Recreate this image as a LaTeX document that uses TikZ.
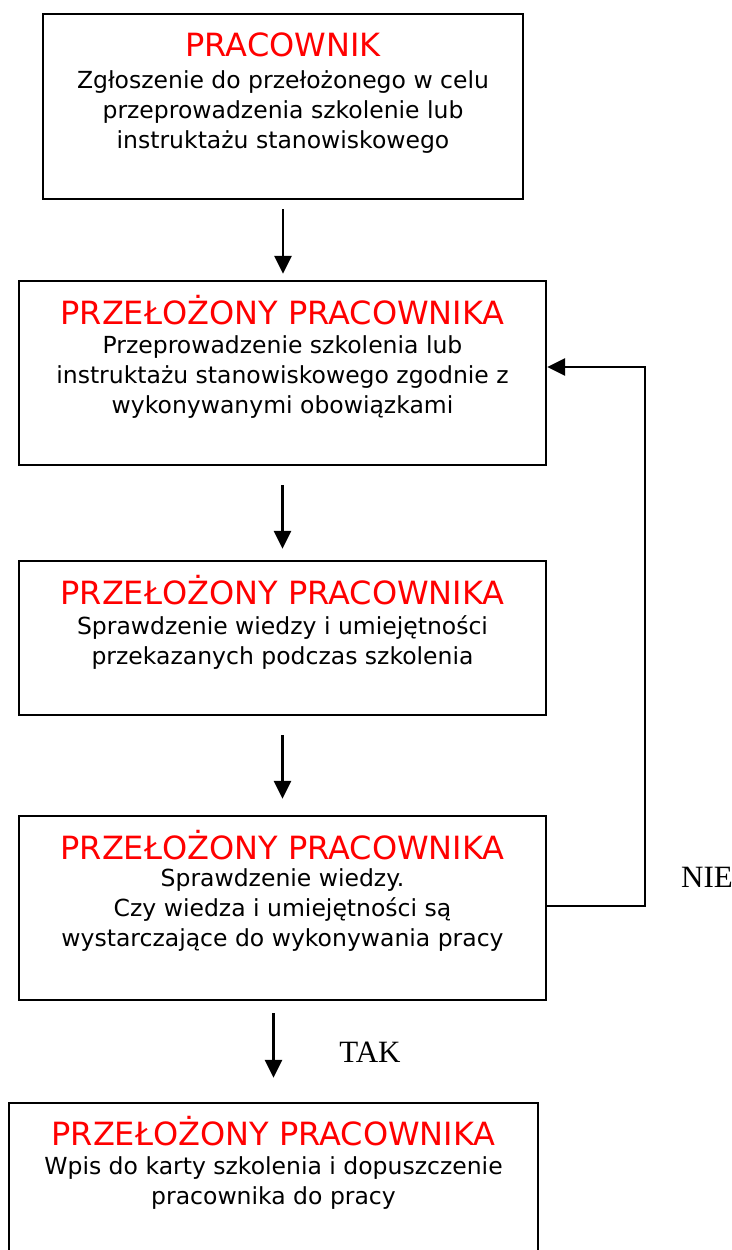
\documentclass[tikz,border=0pt]{standalone}
\usepackage{fontspec}
\setmainfont{DejaVu Sans}
\newfontfamily\labelfont{Liberation Serif}
\usetikzlibrary{arrows.meta,calc}
\definecolor{titlered}{RGB}{255,0,0}
\begin{document}
\begin{tikzpicture}[x=1pt,y=-1pt,
  box/.style={draw, line width=2.4pt, inner sep=0pt},
  ttl/.style={text=titlered, font=\fontsize{32}{36}\selectfont, anchor=base, inner sep=0pt},
  body/.style={font=\fontsize{23.5}{30}\selectfont, align=center, anchor=north, inner sep=0pt},
  arr/.style={line width=2.8pt, -{Triangle[length=18pt,width=17pt]}},
  lbl/.style={font=\labelfont\fontsize{31}{36}\selectfont, inner sep=0pt}]
\clip (0,0) rectangle (731,1250);
\fill[white] (0,0) rectangle (731,1250);

\node[box, minimum width=480pt, minimum height=185pt] (b1) at (283,106.5) {};
\node[ttl] (t1) at (283,56.7) {PRACOWNIK};
\node[body] (d1) at (283,70) {Zgłoszenie do przełożonego w celu\\przeprowadzenia szkolenie lub\\instruktażu stanowiskowego};

\node[box, minimum width=527pt, minimum height=184pt] (b2) at (282.5,373) {};
\node[ttl] (t2) at (282.5,324.7) {PRZEŁOŻONY PRACOWNIKA};
\node[body] (d2) at (282.5,335) {Przeprowadzenie szkolenia lub\\instruktażu stanowiskowego zgodnie z\\wykonywanymi obowiązkami};

\node[box, minimum width=527pt, minimum height=154pt] (b3) at (282.5,638) {};
\node[ttl] (t3) at (282.5,604.7) {PRZEŁOŻONY PRACOWNIKA};
\node[body] (d3) at (282.5,615.5) {Sprawdzenie wiedzy i umiejętności\\przekazanych podczas szkolenia};

\node[box, minimum width=527pt, minimum height=184pt] (b4) at (282.5,908) {};
\node[ttl] (t4) at (282.5,859.7) {PRZEŁOŻONY PRACOWNIKA};
\node[body] (d4) at (282.5,868.5) {Sprawdzenie wiedzy.\\Czy wiedza i umiejętności są\\wystarczające do wykonywania pracy};

\node[box, minimum width=529pt, minimum height=174pt] (b5) at (273.5,1190) {};
\node[ttl] (t5) at (273.5,1145.7) {PRZEŁOŻONY PRACOWNIKA};
\node[body] (d5) at (273.5,1156.5) {Wpis do karty szkolenia i dopuszczenie\\pracownika do pracy};

\draw[arr, shorten <=9pt, shorten >=6pt] (b1.south) -- (b1.south |- b2.north);
\draw[arr, shorten <=19pt, shorten >=11pt] (b2.south) -- (b2.south |- b3.north);
\draw[arr, shorten <=19pt, shorten >=16pt] (b3.south) -- (b3.south |- b4.north);
\draw[arr, shorten <=12pt, shorten >=24pt] (b5.north |- b4.south) -- (b5.north);

\coordinate (fb) at (645,600);
\draw[arr] ($(b4.east)+(0,-2)$) -| (fb) |- ($(b2.east)+(0,-6)$);

\node[lbl] (nie) at (707,877) {NIE};
\node[lbl] (tak) at (370,1052) {TAK};
\end{tikzpicture}
\end{document}
